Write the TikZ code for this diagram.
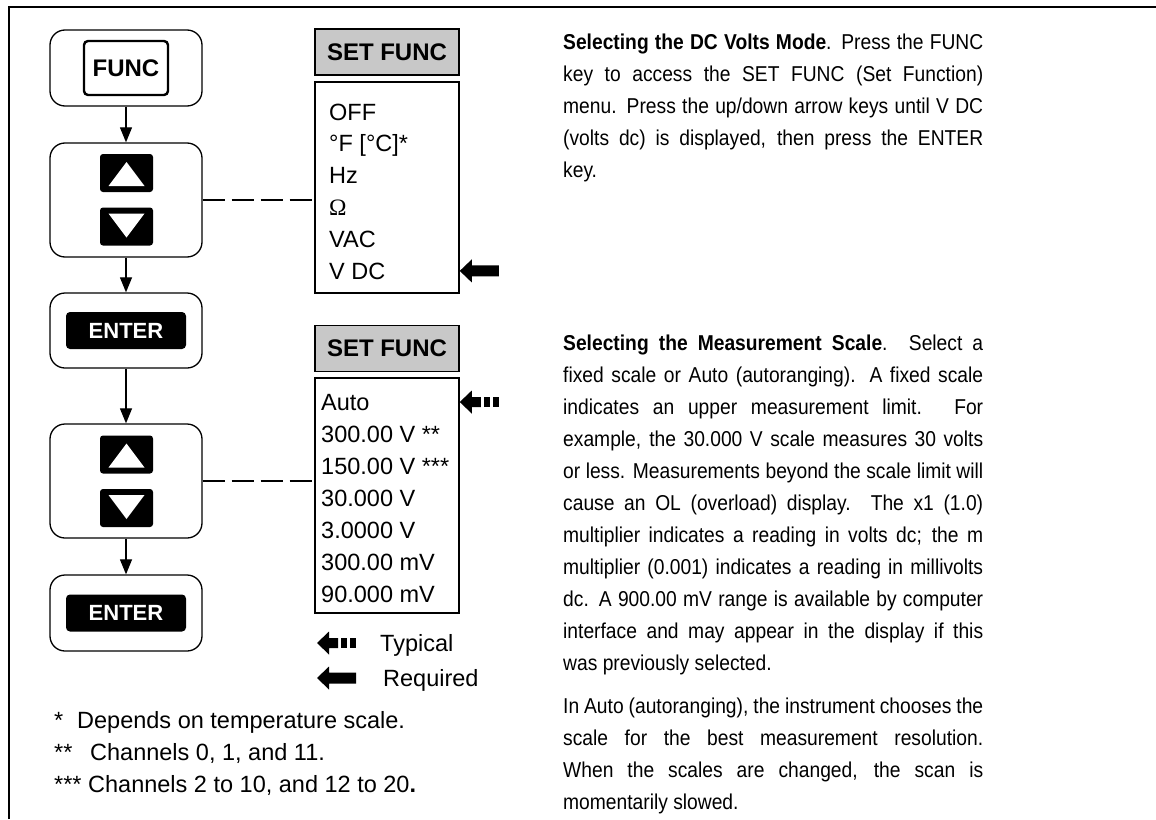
\documentclass[tikz,border=0pt]{standalone}
\usepackage{fontspec}
\setmainfont{Liberation Sans}
\newfontfamily\narrowfont[FakeStretch=0.895]{Liberation Sans}
\newfontfamily\omegafont{Liberation Serif}
\usetikzlibrary{positioning,calc,arrows.meta}
\definecolor{headgray}{RGB}{200,200,200}

\tikzset{
  typarrow/.pic={
    \fill (0,0) -- (12,-11.5) -- (12,-5) -- (21,-5) -- (21,5) -- (12,5) -- (12,11.5) -- cycle;
    \fill (24,-5) rectangle (30,5);
    \fill (33,-5) rectangle (39,5);
  },
  reqarrow/.pic={
    \fill (0,0) -- (12,-11.5) -- (12,-5.5) -- (39,-5.5) -- (39,5.5) -- (12,5.5) -- (12,11.5) -- cycle;
  }
}

\begin{document}
\begin{tikzpicture}[x=1pt,y=-1pt,
    button/.style={rectangle,draw,rounded corners=15pt,line width=1.3pt,minimum width=152pt},
    keyfunc/.style={rectangle,draw,rounded corners=4pt,line width=2.4pt,minimum width=84pt,minimum height=54pt,font=\fontsize{24}{24}\selectfont\bfseries},
    keyenter/.style={rectangle,fill=black,rounded corners=4pt,minimum width=120pt,minimum height=37pt,text=white,font=\fontsize{22}{22}\selectfont\bfseries},
    keyarrow/.style={rectangle,fill=black,rounded corners=3pt,minimum width=53pt,minimum height=38pt},
    menuhead/.style={rectangle,draw,fill=headgray,line width=1.5pt,minimum width=144pt,minimum height=46pt,font=\fontsize{24}{24}\selectfont\bfseries},
    menubox/.style={rectangle,draw,line width=1.5pt,minimum width=144pt},
    item/.style={anchor=base west,inner sep=0pt,font=\fontsize{23.5}{23.5}\selectfont},
    note/.style={anchor=base west,inner sep=0pt,font=\fontsize{23.5}{23.5}\selectfont},
    para/.style={anchor=north west,inner sep=0pt,text width=420pt,align=justify,font=\fontsize{21.5}{32}\selectfont\narrowfont,execute at begin node={\tolerance=9999\hbadness=10000}},
    arrow/.style={-{Triangle[length=15pt,width=12pt]},line width=1.2pt},
    link/.style={line width=1.2pt,dash pattern=on 22pt off 7pt}]
\useasboundingbox (0,0) rectangle (1156,819);

% frame
\draw[line width=2pt] (9,819) -- (9,7) -- (1156,7);

% keys
\node[button,minimum height=76pt] (btnfunc) at (126,68) {};
\node[keyfunc] (func) at (btnfunc) {FUNC};
\node[button,minimum height=114pt] (btnsel1) at (126,200) {};
\node[keyarrow] (up1) at (126.5,173) {};
\node[keyarrow] (down1) at (126.5,226.5) {};
\node[button,minimum height=75pt] (btnent1) at (126,330.5) {};
\node[keyenter] (enter1) at (btnent1) {ENTER};
\node[button,minimum height=114pt] (btnsel2) at (126,481) {};
\node[keyarrow] (up2) at (126.5,454.5) {};
\node[keyarrow] (down2) at (126.5,508) {};
\node[button,minimum height=76pt] (btnent2) at (126,613) {};
\node[keyenter] (enter2) at (btnent2) {ENTER};

\foreach \k in {up1,up2}
  \fill[white] ($(\k.center)+(0,-11)$) -- ++(18,24) -- ++(-36,0) -- cycle;
\foreach \k in {down1,down2}
  \fill[white] ($(\k.center)+(0,11)$) -- ++(18,-24) -- ++(-36,0) -- cycle;

\draw[arrow] (btnfunc) -- (btnsel1);
\draw[arrow] (btnsel1) -- (btnent1);
\draw[arrow] (btnent1) -- (btnsel2);
\draw[arrow] (btnsel2) -- (btnent2);

% menus
\node[menuhead] (head1) at (387,52) {SET FUNC};
\node[menubox,minimum height=211pt] (menu1) at (387,187.5) {};
\node[menuhead] (head2) at (387,348.5) {SET FUNC};
\node[menubox,minimum height=235pt] (menu2) at (387,495.5) {};

\foreach \txt [count=\i from 0] in {OFF,°F [°C]*,Hz,{\omegafont Ω},VAC,V DC}
  \node[item] (f\i) at (329,{120+31.8*\i}) {\txt};
\foreach \txt [count=\i from 0] in {Auto,300.00 V **,150.00 V ***,30.000 V,3.0000 V,300.00 mV,90.000 mV}
  \node[item] (s\i) at (321,{410+32*\i}) {\txt};

\draw[link] (btnsel1.east) -- (btnsel1.east -| menu1.west);
\draw[link] (btnsel2.east) -- (btnsel2.east -| menu2.west);

\pic at (menu1.east |- f5) {reqarrow};
\pic at (menu2.east |- s0) {typarrow};

% legend
\pic at (317,643) {typarrow};
\node[item] (typical) at (380,651) {Typical};
\pic at (317,678) {reqarrow};
\node[item] (required) at (383,686) {Required};

% notes
\node[note] (star1) at (54,728) {*};
\node[note] (note1) at (77,728) {Depends on temperature scale.};
\node[note] (star2) at (54,760) {**};
\node[note] (note2) at (90,760) {Channels 0, 1, and 11.};
\node[note] (star3) at (54,792) {***};
\node[note] (note3) at (88,792) {Channels 2 to 10, and 12 to 20\textbf{.}};

% text
\node[para] (mode) at (563,33.5) {\rule{0pt}{16pt}\textbf{Selecting the DC Volts Mode}.  Press the FUNC\linebreak
  key to access the SET FUNC (Set Function)\linebreak
  menu.  Press the up/down arrow keys until V DC\linebreak
  (volts dc) is displayed, then press the ENTER\linebreak
  key.};
\node[para] (scale) at (563,334) {\rule{0pt}{16pt}\textbf{Selecting the Measurement Scale}.  Select a\linebreak
  fixed scale or Auto (autoranging).  A fixed scale\linebreak
  indicates an upper measurement limit.  For\linebreak
  example, the 30.000 V scale measures 30 volts\linebreak
  or less.  Measurements beyond the scale limit will\linebreak
  cause an OL (overload) display.  The x1 (1.0)\linebreak
  multiplier indicates a reading in volts dc; the m\linebreak
  multiplier (0.001) indicates a reading in millivolts\linebreak
  dc.  A 900.00 mV range is available by computer\linebreak
  interface and may appear in the display if this\linebreak
  was previously selected.};
\node[para] (auto) at (563,697) {\rule{0pt}{16pt}In Auto (autoranging), the instrument chooses the\linebreak
  scale for the best measurement resolution.\linebreak
  When the scales are changed, the scan is\linebreak
  momentarily slowed.};

\end{tikzpicture}
\end{document}
